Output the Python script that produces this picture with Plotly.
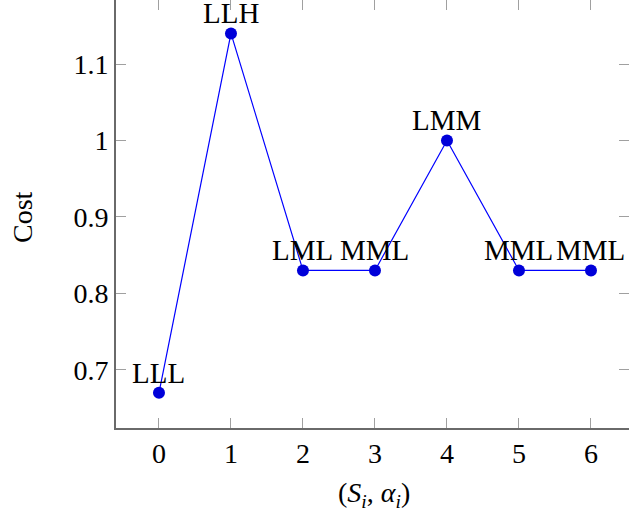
import plotly.graph_objects as go

x_vals = [0, 1, 2, 3, 4, 5, 6]
costs = [0.67, 1.14, 0.83, 0.83, 1.00, 0.83, 0.83]
point_labels = ["LLL", "LLH", "LML", "MML", "LMM", "MML", "MML"]
x_ticks = [0, 1, 2, 3, 4, 5, 6]
y_ticks = [0.7, 0.8, 0.9, 1.0, 1.1]
y_tick_text = ["0.7", "0.8", "0.9", "1", "1.1"]

FONT = "Liberation Serif"
W, H = 629, 516
L, R, T, B = 116, 0, 0, 88
XR = [-0.597, 6.528]
YR = [0.624, 1.1837]

fig = go.Figure()
fig.add_trace(go.Scatter(
    x=x_vals, y=costs, mode="lines+markers",
    line=dict(color="#0000ff", width=1.2),
    marker=dict(color="#0000d9", size=12, line=dict(width=0)),
    cliponaxis=False, showlegend=False,
))
fig.add_trace(go.Scatter(x=[XR[0]], y=[YR[0]], xaxis="x2", yaxis="y2",
                         mode="markers", marker=dict(opacity=0), showlegend=False,
                         hoverinfo="skip"))

axis_common = dict(ticks="inside", ticklen=10, tickwidth=1.3, tickcolor="#a0a0a0",
                   showgrid=False, zeroline=False)

label_annotations = [
    dict(text=t, x=xv, y=yv, xref="x", yref="y", showarrow=False,
         xanchor="center", yanchor="bottom", yshift=2,
         font=dict(family=FONT, size=29, color="black"))
    for xv, yv, t in zip(x_vals, costs, point_labels)
]

fig.update_layout(
    width=W, height=H,
    margin=dict(l=L, r=R, t=T, b=B),
    paper_bgcolor="white", plot_bgcolor="white",
    font=dict(family=FONT, size=28, color="black"),
    xaxis=dict(range=XR, tickvals=x_ticks, ticktext=[str(v) for v in x_ticks],
               showline=True, linecolor="#6a6a6a", linewidth=1.6,
               tickfont=dict(family=FONT, size=28), **axis_common),
    yaxis=dict(range=YR, tickvals=y_ticks, ticktext=y_tick_text,
               showline=True, linecolor="#6a6a6a", linewidth=1.6,
               tickfont=dict(family=FONT, size=28), **axis_common),
    xaxis2=dict(range=XR, tickvals=x_ticks, overlaying="x", side="top",
                showticklabels=False, showline=False, anchor="y", **axis_common),
    yaxis2=dict(range=YR, tickvals=y_ticks, overlaying="y", side="right",
                showticklabels=False, showline=False, anchor="x", **axis_common),
    annotations=label_annotations + [
        dict(text="Cost", xref="paper", yref="paper", x=(22 - L) / (W - L - R),
             y=(428 - 217) / (H - T - B), textangle=-90, showarrow=False,
             font=dict(family=FONT, size=28), xanchor="center", yanchor="middle"),
        dict(text="(<i>S</i><sub><i>i</i></sub>, <i>α</i><sub><i>i</i></sub>)",
             xref="paper", yref="paper", x=(374 - L) / (W - L - R),
             y=(428 - 494) / (H - T - B), showarrow=False,
             font=dict(family=FONT, size=28), xanchor="center", yanchor="middle"),
    ],
)

fig.write_html("out.html", config={"displayModeBar": False},
               post_script="document.body.style.margin='0';document.body.style.overflow='hidden';")
